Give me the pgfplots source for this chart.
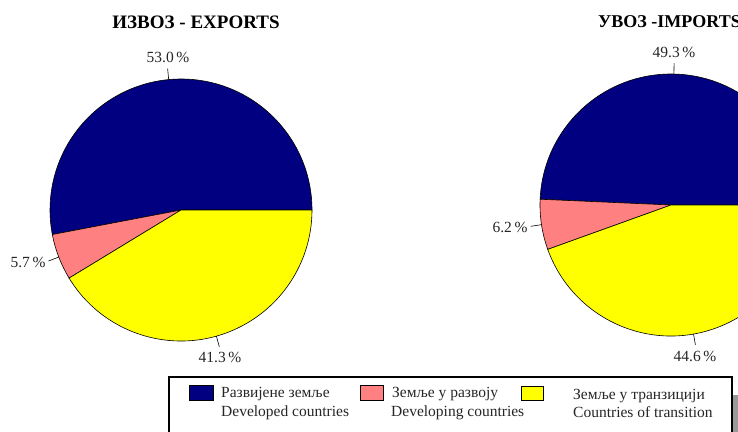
\documentclass[border=0pt]{standalone}
\usepackage{fontspec}
\setmainfont{Liberation Serif}
\usepackage{pgfplots}
\usepackage{pgfplotstable}
\pgfplotsset{compat=1.18}

\definecolor{developed}{RGB}{0,0,128}
\definecolor{developing}{RGB}{255,128,128}
\definecolor{transition}{RGB}{255,255,0}

% shares in percent, in pie order (counter-clockwise from 3 o'clock)
\pgfplotstableread{
group share
developed 53.0
developing 5.7
transition 41.3
}\exports
\pgfplotstableread{
group share
developed 49.3
developing 6.2
transition 44.6
}\imports

\tikzset{
  lbl/.style={font=\fontsize{15.5bp}{18bp}\selectfont, text=black!85, inner sep=0pt},
  ttl/.style={font=\fontsize{19bp}{22bp}\selectfont\bfseries, text=black, inner sep=0pt},
}

% slice: cx, cy, start angle, end angle, colour
\newcommand\pieslice[5]{%
  \filldraw[fill=#5, draw=black, line width=0.6bp]
    (axis cs:#1,#2) -- ++(#3:131bp) arc[start angle=#3, end angle=#4, radius=131bp] -- cycle;}
% leader line: cx, cy, angle
\newcommand\leader[3]{%
  \draw[line width=0.6bp] (axis cs:#1,#2) ++(#3:131bp) -- ++(#3:11bp);}

\begin{document}
\begin{tikzpicture}
\pgfplotstablegetelem{0}{share}\of\exports \let\exA\pgfplotsretval
\pgfplotstablegetelem{1}{share}\of\exports \let\exB\pgfplotsretval
\pgfplotstablegetelem{2}{share}\of\exports \let\exC\pgfplotsretval
\pgfplotstablegetelem{0}{share}\of\imports \let\imA\pgfplotsretval
\pgfplotstablegetelem{1}{share}\of\imports \let\imB\pgfplotsretval
\pgfplotstablegetelem{2}{share}\of\imports \let\imC\pgfplotsretval
\pgfmathsetmacro\exAe{3.6*\exA}
\pgfmathsetmacro\exBe{\exAe+3.6*\exB}
\pgfmathsetmacro\exAm{\exAe/2}
\pgfmathsetmacro\exBm{(\exAe+\exBe)/2}
\pgfmathsetmacro\exCm{(\exBe+360)/2}
\pgfmathsetmacro\imAe{3.6*\imA}
\pgfmathsetmacro\imBe{\imAe+3.6*\imB}
\pgfmathsetmacro\imAm{\imAe/2}
\pgfmathsetmacro\imBm{(\imAe+\imBe)/2}
\pgfmathsetmacro\imCm{(\imBe+360)/2}

\useasboundingbox (0,0) rectangle (738bp,432bp);
\clip (0,0) rectangle (738bp,432bp);

\begin{axis}[
  x=1bp, y=1bp,
  xmin=0, xmax=738, ymin=0, ymax=432,
  y dir=reverse,
  enlargelimits=false,
  hide axis, clip=false,
  anchor=origin, at={(0,432bp)},
]
% exports
\pieslice{181}{210}{0}{\exAe}{developed}
\pieslice{181}{210}{\exAe}{\exBe}{developing}
\pieslice{181}{210}{\exBe}{360}{transition}
\leader{181}{210}{\exAm}
\leader{181}{210}{\exBm}
\leader{181}{210}{\exCm}
\node[lbl] at (axis cs:168,57) {\exA\,\%};
\node[lbl] at (axis cs:28,262) {\exB\,\%};
\node[lbl] at (axis cs:220,357) {\exC\,\%};
\node[ttl] at (axis cs:196,22) {ИЗВОЗ - EXPORTS};

% imports
\pieslice{671}{205}{0}{\imAe}{developed}
\pieslice{671}{205}{\imAe}{\imBe}{developing}
\pieslice{671}{205}{\imBe}{360}{transition}
\leader{671}{205}{\imAm}
\leader{671}{205}{\imBm}
\leader{671}{205}{\imCm}
\node[lbl] at (axis cs:674,52) {\imA\,\%};
\node[lbl] at (axis cs:510,227) {\imB\,\%};
\node[lbl] at (axis cs:695,356) {\imC\,\%};
\node[ttl, font=\fontsize{18bp}{22bp}\selectfont\bfseries, anchor=west] at (axis cs:598,22) {УВОЗ -IMPORTS};

% legend box
\fill[black!40] (axis cs:733,395) rectangle (axis cs:745,445);
\draw[line width=1.2bp, fill=white] (axis cs:169,377) rectangle (axis cs:732,445);
\filldraw[fill=developed, draw=black, line width=0.6bp] (axis cs:189,385) rectangle (axis cs:213,400);
\filldraw[fill=developing, draw=black, line width=0.6bp] (axis cs:360,385) rectangle (axis cs:383,400);
\filldraw[fill=transition, draw=black, line width=0.6bp] (axis cs:521,386) rectangle (axis cs:543,400);
\node[lbl, anchor=west] at (axis cs:221,394) {Развијене земље};
\node[lbl, anchor=west] at (axis cs:221,413) {Developed countries};
\node[lbl, anchor=west] at (axis cs:392,394) {Земље у развоју};
\node[lbl, anchor=west] at (axis cs:391,413) {Developing countries};
\node[lbl, anchor=west] at (axis cs:573,396) {Земље у транзицији};
\node[lbl, anchor=west] at (axis cs:573,412) {Countries of transition};
\end{axis}
\end{tikzpicture}
\end{document}
